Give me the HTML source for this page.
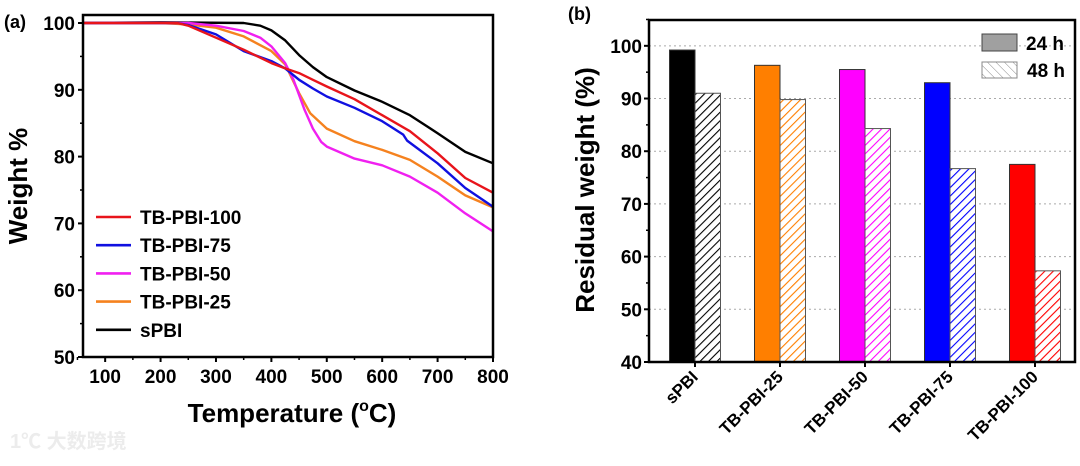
<!DOCTYPE html>
<html><head><meta charset="utf-8"><style>
html,body{margin:0;padding:0;background:#fff;}
svg text{font-family:"Liberation Sans",Arial,sans-serif;font-weight:bold;}
</style></head><body>
<svg id="fig" width="1080" height="461" viewBox="0 0 1080 461" xmlns="http://www.w3.org/2000/svg">
<defs id="defs"></defs>
<g id="left"></g>
<g id="right"></g>
<text x="10" y="448" font-size="20" fill="#ececec" style="font-family:'Liberation Sans','Noto Sans CJK SC',sans-serif">1℃ 大数跨境</text>
</svg>
<script>
const NS='http://www.w3.org/2000/svg';
function mk(tag,attrs,parent,txt){const e=document.createElementNS(NS,tag);for(const k in attrs)e.setAttribute(k,attrs[k]);if(txt!==undefined)e.textContent=txt;parent.appendChild(e);return e;}

// ===== Left chart data =====
const seriesNames=['TB-PBI-100','TB-PBI-75','TB-PBI-50','TB-PBI-25','sPBI'];
const seriesColors=['#e8141b','#1010e0','#f020f0','#f5821f','#000000'];
const tRed=[60,230,250,300,350,400,425,450,475,500,550,600,650,700,750,800];
const wRed=[100,100,99.6,97.8,96.0,94.0,93.2,92.5,91.5,90.5,88.6,86.2,83.8,80.5,76.8,74.6];
const tBlue=[60,230,250,300,350,400,425,450,475,500,550,600,638,645,700,750,800];
const wBlue=[100,100,99.7,98.3,95.8,94.3,93.2,91.5,90.2,89.0,87.3,85.3,83.3,82.4,79.0,75.3,72.5];
const tMag=[60,250,300,350,380,400,425,440,460,475,490,500,550,600,650,700,750,800];
const wMag=[100,100,99.6,98.8,97.8,96.5,94.0,91.5,87.0,84.2,82.2,81.5,79.7,78.7,77.0,74.6,71.5,68.8];
const tOra=[60,200,250,300,350,400,425,450,470,500,550,600,650,700,750,800];
const wOra=[100,100,99.8,99.3,98.0,95.8,93.8,89.5,86.5,84.2,82.3,81.0,79.5,77.0,74.2,72.4];
const tBlk=[60,200,350,380,400,425,450,475,500,550,600,650,700,750,800];
const wBlk=[100,100.1,100,99.6,98.9,97.4,95.2,93.4,91.9,89.9,88.2,86.2,83.5,80.7,79.0];
const xTicksL=[100,200,300,400,500,600,700,800];
const yTicksL=[50,60,70,80,90,100];

const L={x0:83,x1:493,y0:357,y1:15,tmin:60,tmax:800,wmin:50,wmax:101.2};
const lx=t=>L.x0+(t-L.tmin)/(L.tmax-L.tmin)*(L.x1-L.x0);
const ly=w=>L.y0-(w-L.wmin)/(L.wmax-L.wmin)*(L.y0-L.y1);
const gl=document.getElementById('left');

const allT=[tRed,tBlue,tMag,tOra,tBlk], allW=[wRed,wBlue,wMag,wOra,wBlk];
const drawOrder=[4,3,2,1,0];
drawOrder.forEach(i=>{
  const pts=allT[i].map((t,j)=>lx(t).toFixed(1)+','+ly(allW[i][j]).toFixed(1)).join(' ');
  const p=mk('polyline',{points:pts,fill:'none',stroke:seriesColors[i],'stroke-width':2.4,'stroke-linejoin':'round'},gl);
  
  
});
mk('rect',{x:L.x0,y:L.y1,width:L.x1-L.x0,height:L.y0-L.y1,fill:'none',stroke:'#000','stroke-width':2.5,},gl);
xTicksL.forEach(t=>{
  mk('line',{x1:lx(t),x2:lx(t),y1:L.y0,y2:L.y0+5,stroke:'#000','stroke-width':2},gl);
  mk('line',{x1:lx(t-50),x2:lx(t-50),y1:L.y0,y2:L.y0+3,stroke:'#000','stroke-width':1.5},gl);
  const e=mk('text',{x:lx(t),y:L.y0+26,'font-size':19,'text-anchor':'middle'},gl,String(t));
  
  
});
yTicksL.forEach(v=>{
  mk('line',{x1:L.x0-5,x2:L.x0,y1:ly(v),y2:ly(v),stroke:'#000','stroke-width':2},gl);
  if(v<100) mk('line',{x1:L.x0-3,x2:L.x0,y1:ly(v+5),y2:ly(v+5),stroke:'#000','stroke-width':1.5},gl);
  const e=mk('text',{x:L.x0-8,y:ly(v)+7,'font-size':19,'text-anchor':'end'},gl,String(v));
  
  
});
mk('text',{x:4,y:28,'font-size':18,'font-weight':'normal',},gl,'(a)');
const xt=mk('text',{x:292,y:422,'font-size':26,'text-anchor':'middle',},gl);
mk('tspan',{},xt,'Temperature (');
mk('tspan',{'font-size':16,dy:-11},xt,'o');
mk('tspan',{dy:11},xt,'C)');
mk('text',{x:0,y:0,'font-size':26,'text-anchor':'middle',transform:'translate(27,186) rotate(-90)',},gl,'Weight %');
seriesNames.forEach((n,i)=>{
  const y=217+i*28.2;
  const g=mk('g',{},gl);
  
  
  mk('line',{x1:96,x2:131,y1:y,y2:y,stroke:seriesColors[i],'stroke-width':2.6},g);
  mk('text',{x:140,y:y+7,'font-size':19},g,n);
});

// ===== Right chart data =====
const categories=['sPBI','TB-PBI-25','TB-PBI-50','TB-PBI-75','TB-PBI-100'];
const values24=[99.2,96.3,95.5,93.0,77.5];
const values48=[91.0,89.8,84.3,76.7,57.3];
const barColors=['#000000','#ff7f00','#ff00ff','#0000ff','#ff0000'];
const yTicksR=[40,50,60,70,80,90,100];

const R={x0:649,x1:1075,y0:362,y1:20,vmin:40,vmax:104.9,first:695,step:85,bw:25.5};
const ry=v=>R.y0-(v-R.vmin)/(R.vmax-R.vmin)*(R.y0-R.y1);
const rx=i=>R.first+i*R.step;
const gr=document.getElementById('right');
const defs=document.getElementById('defs');
barColors.forEach((c,i)=>{
  const p=mk('pattern',{id:'hatch'+i,patternUnits:'userSpaceOnUse',width:6,height:6,patternTransform:'rotate(45)'},defs);
  mk('rect',{x:0,y:0,width:6,height:6,fill:'#fff'},p);
  mk('line',{x1:0,y1:0,x2:0,y2:6,stroke:c,'stroke-width':2.2},p);
});
const lp=mk('pattern',{id:'hatchLeg',patternUnits:'userSpaceOnUse',width:6,height:6,patternTransform:'rotate(-45)'},defs);
mk('rect',{x:0,y:0,width:6,height:6,fill:'#fff'},lp);
mk('line',{x1:0,y1:0,x2:0,y2:6,stroke:'#888','stroke-width':1},lp);

yTicksR.forEach(v=>{
  if(v>40) mk('line',{x1:R.x0,x2:R.x1,y1:ry(v),y2:ry(v),stroke:'#aaa','stroke-width':1,'stroke-dasharray':'2,3',},gr);
  mk('line',{x1:R.x0-5,x2:R.x0,y1:ry(v),y2:ry(v),stroke:'#000','stroke-width':2},gr);
  mk('line',{x1:R.x0-3,x2:R.x0,y1:ry(v+5),y2:ry(v+5),stroke:'#000','stroke-width':1.5},gr);
  const e=mk('text',{x:R.x0-7,y:ry(v)+7,'font-size':19,'text-anchor':'end'},gr,String(v));
  
  
});
categories.forEach((c,i)=>{
  const b1=mk('rect',{x:rx(i)-R.bw,y:ry(values24[i]),width:R.bw,height:R.y0-ry(values24[i]),fill:barColors[i],stroke:'#333','stroke-width':1},gr);
  
  
  const b2=mk('rect',{x:rx(i),y:ry(values48[i]),width:R.bw,height:R.y0-ry(values48[i]),fill:'url(#hatch'+i+')',stroke:'#555','stroke-width':1},gr);
  
  
  mk('line',{x1:rx(i),x2:rx(i),y1:R.y0,y2:R.y0+5,stroke:'#000','stroke-width':2},gr);
  const t=mk('text',{x:0,y:0,'font-size':17,'text-anchor':'end',transform:'translate('+(rx(i)+4)+','+(R.y0+16)+') rotate(-45)'},gr,c);
  
  
});
mk('rect',{x:R.x0,y:R.y1,width:R.x1-R.x0,height:R.y0-R.y1,fill:'none',stroke:'#000','stroke-width':2.5,},gr);
mk('text',{x:568,y:20,'font-size':18,'font-weight':'normal',},gr,'(b)');
mk('text',{x:0,y:0,'font-size':26,'text-anchor':'middle',transform:'translate(594,190) rotate(-90)',},gr,'Residual weight (%)');
const lg1=mk('g',{},gr);


mk('rect',{x:982,y:34,width:35,height:17,fill:'#a0a0a0',stroke:'#444','stroke-width':1},lg1);
mk('text',{x:1026,y:50,'font-size':19},lg1,'24 h');
const lg2=mk('g',{},gr);


mk('rect',{x:982,y:62,width:35,height:16,fill:'url(#hatchLeg)',stroke:'#888','stroke-width':1},lg2);
mk('text',{x:1027,y:77,'font-size':19},lg2,'48 h');
</script>
</body></html>
